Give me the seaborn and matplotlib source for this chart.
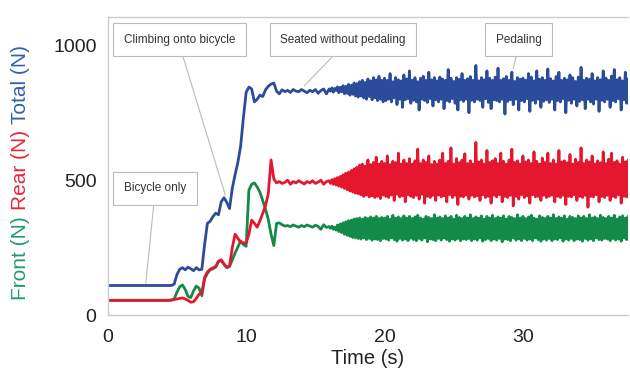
import numpy as np
import pandas as pd
import seaborn as sns
import matplotlib.pyplot as plt
from matplotlib.ticker import MultipleLocator

# getting on the bike, 0 - 15.8 s, sampled every 0.2 s (10 values = 2 s)
front_start = [
    55, 55, 55, 55, 55, 55, 55, 55, 55, 55,
    55, 55, 55, 55, 55, 55, 55, 55, 55, 55,
    55, 55, 55, 56, 60, 85, 105, 112, 95, 70,
    65, 90, 108, 100, 72, 135, 155, 168, 172, 178,
    198, 203, 188, 176, 180, 205, 230, 252, 275, 262,
    255, 463, 485, 490, 475, 455, 425, 392, 355, 300,
    258, 340, 342, 335, 330, 332, 328, 334, 330, 326,
    332, 328, 334, 330, 326, 333, 329, 318, 335, 325,
]
rear_start = [
    55, 55, 55, 55, 55, 55, 55, 55, 55, 55,
    55, 55, 55, 55, 55, 55, 55, 55, 55, 55,
    55, 55, 55, 56, 58, 60, 62, 64, 60, 55,
    48, 50, 62, 78, 82, 140, 160, 170, 175, 180,
    200, 205, 190, 178, 182, 250, 300, 285, 270, 268,
    267, 300, 352, 340, 326, 350, 378, 405, 450, 575,
    505, 490, 495, 488, 492, 500, 485, 495, 490, 498,
    492, 486, 495, 490, 498, 488, 493, 500, 485, 495,
]
total_start = [
    110, 110, 110, 110, 110, 110, 110, 110, 110, 110,
    110, 110, 110, 110, 110, 110, 110, 110, 110, 110,
    110, 110, 110, 110, 115, 150, 170, 176, 168, 178,
    172, 165, 176, 168, 170, 262, 340, 348, 365, 378,
    372, 420, 435, 418, 395, 470, 520, 565, 625, 730,
    825, 845, 838, 790, 800, 815, 810, 835, 848, 856,
    860, 830, 820, 835, 828, 833, 825, 836, 830, 828,
    836, 830, 824, 833, 828, 836, 822, 832, 838, 820,
]

# pedaling, 16 - 37.9 s, sampled every 0.1 s (20 values = 2 s)
front_pedal = [
    328, 322, 330, 318, 326, 315, 334, 310, 338, 306, 342, 300, 346, 296, 350, 292, 352, 288, 356, 286,
    358, 284, 360, 282, 356, 286, 362, 280, 358, 284, 364, 278, 360, 282, 366, 280, 358, 276, 362, 284,
    360, 282, 366, 278, 356, 286, 370, 280, 360, 274, 364, 284, 358, 278, 368, 282, 360, 276, 366, 285,
    358, 280, 364, 276, 370, 284, 360, 278, 356, 286, 366, 272, 362, 282, 358, 280, 372, 276, 360, 284,
    364, 278, 358, 286, 368, 280, 360, 274, 366, 282, 356, 278, 370, 284, 362, 276, 358, 282, 366, 280,
    360, 284, 372, 276, 358, 282, 364, 278, 360, 286, 368, 274, 356, 280, 366, 284, 360, 276, 370, 282,
    358, 278, 364, 284, 360, 272, 368, 282, 356, 280, 366, 276, 362, 286, 358, 278, 372, 282, 360, 276,
    366, 284, 358, 278, 364, 282, 370, 276, 360, 286, 356, 280, 368, 274, 362, 282, 358, 278, 366, 284,
    360, 276, 372, 282, 358, 280, 364, 286, 360, 274, 368, 282, 356, 278, 366, 284, 362, 276, 358, 282,
    368, 280, 360, 274, 366, 284, 358, 278, 372, 282, 360, 276, 364, 286, 358, 280, 370, 278, 362, 284,
    358, 282, 366, 276, 360, 284, 370, 278, 356, 282, 364, 274, 368, 286, 360, 280, 366, 276, 358, 282,
]
rear_pedal = [
    498, 488, 502, 485, 506, 482, 510, 478, 514, 474, 520, 470, 526, 465, 530, 460, 536, 456, 542, 452,
    548, 450, 556, 446, 560, 440, 552, 445, 575, 438, 558, 442, 566, 436, 585, 440, 560, 432, 570, 445,
    562, 440, 590, 436, 558, 445, 570, 425, 565, 448, 600, 438, 560, 442, 575, 420, 562, 446, 580, 440,
    560, 436, 572, 444, 615, 430, 562, 448, 575, 415, 566, 440, 590, 436, 558, 444, 570, 425, 560, 445,
    575, 438, 600, 442, 562, 420, 570, 446, 620, 436, 560, 444, 580, 410, 565, 440, 575, 438, 598, 445,
    562, 430, 572, 444, 560, 438, 640, 442, 568, 425, 575, 446, 560, 436, 610, 440, 566, 415, 572, 444,
    580, 438, 562, 446, 600, 420, 570, 440, 560, 436, 575, 444, 615, 405, 566, 440, 572, 430, 560, 446,
    590, 436, 568, 442, 575, 415, 562, 446, 605, 438, 570, 440, 560, 425, 582, 444, 566, 436, 600, 440,
    562, 445, 575, 420, 560, 440, 610, 436, 568, 444, 572, 410, 565, 440, 595, 438, 560, 446, 578, 425,
    566, 440, 620, 436, 562, 444, 575, 400, 568, 440, 590, 438, 560, 446, 572, 420, 565, 440, 605, 436,
    562, 444, 578, 425, 600, 440, 566, 436, 572, 446, 560, 415, 585, 440, 568, 438, 575, 444, 562, 430,
]
total_pedal = [
    838, 830, 842, 826, 840, 832, 846, 824, 844, 828, 850, 820, 848, 822, 855, 815, 852, 818, 860, 812,
    858, 808, 865, 812, 870, 805, 862, 800, 875, 810, 868, 798, 880, 805, 872, 795, 885, 800, 870, 790,
    878, 795, 870, 800, 895, 790, 865, 805, 880, 780, 872, 800, 868, 770, 890, 798, 875, 802, 905, 785,
    870, 796, 880, 790, 865, 760, 878, 800, 885, 795, 870, 788, 900, 802, 872, 775, 880, 798, 868, 790,
    882, 800, 875, 765, 870, 795, 910, 790, 878, 802, 866, 785, 880, 760, 874, 798, 895, 792, 870, 800,
    876, 750, 884, 796, 870, 790, 925, 800, 868, 795, 880, 770, 872, 802, 905, 788, 878, 765, 870, 798,
    882, 795, 915, 790, 870, 800, 876, 745, 884, 792, 870, 798, 900, 780, 866, 800, 880, 760, 874, 795,
    878, 790, 870, 802, 895, 755, 882, 796, 868, 785, 905, 800, 874, 770, 880, 792, 870, 798, 912, 788,
    876, 800, 868, 760, 884, 795, 900, 790, 870, 802, 878, 750, 872, 796, 890, 785, 880, 800, 866, 775,
    882, 792, 918, 798, 870, 765, 878, 800, 874, 790, 895, 782, 868, 800, 880, 755, 872, 796, 905, 790,
    878, 800, 870, 770, 886, 795, 910, 790, 872, 802, 880, 760, 868, 798, 900, 785, 876, 800, 870, 792,
]

time = np.round(np.concatenate([np.arange(len(total_start)) * 0.2,
                                16 + np.arange(len(total_pedal)) * 0.1]), 1)
df = pd.DataFrame({'time': time,
                   'front': front_start + front_pedal,
                   'rear': rear_start + rear_pedal,
                   'total': total_start + total_pedal})

sns.set_theme(style='white')
plt.rcParams['font.family'] = ['Liberation Sans', 'DejaVu Sans']

green = '#148a48'
red = '#e5172f'
blue = '#2b4b9b'

fig = plt.figure(figsize=(6.3, 3.73), dpi=100)
ax = fig.add_axes([0.171, 0.155, 0.826, 0.799])

sns.lineplot(x='time', y='front', data=df, color=green, lw=2, ax=ax)
sns.lineplot(x='time', y='rear', data=df, color=red, lw=2, ax=ax)
sns.lineplot(x='time', y='total', data=df, color=blue, lw=2, ax=ax)

ax.set_xlim(0, 37.6)
ax.set_ylim(0, 1104)
ax.set_xticks([0, 10, 20, 30])
ax.set_yticks([0, 500, 1000])
ax.xaxis.set_minor_locator(MultipleLocator(2))
ax.yaxis.set_minor_locator(MultipleLocator(100))
ax.tick_params(axis='both', which='major', labelsize=14, labelcolor='#222222',
               color='#bbbbbb', length=3, width=0.8, direction='out', pad=5)
ax.tick_params(axis='both', which='minor', color='#cccccc', length=3, width=0.6,
               direction='in')
ax.tick_params(axis='x', which='major', pad=7)

for side in ['top', 'left', 'bottom']:
    ax.spines[side].set_color('#cccccc')
    ax.spines[side].set_linewidth(1)
ax.spines['right'].set_visible(False)

ax.set_ylabel('')
ax.set_xlabel('Time (s)', fontsize=14.5, color='#222222', labelpad=2)

# callout boxes with grey leader lines
box = dict(boxstyle='square,pad=0.9', fc='white', ec='#bbbbbb', lw=0.8)
line = dict(arrowstyle='-', color='#bbbbbb', lw=0.8, shrinkA=0, shrinkB=0)
notes = [
    ('Climbing onto bicycle', (5.2, 1020), (8.5, 444)),
    ('Seated without pedaling', (17.0, 1020), (14.2, 850)),
    ('Pedaling', (29.7, 1020), (29.3, 915)),
    ('Bicycle only', (3.4, 470), (2.75, 118)),
]
for label, xytext, xy in notes:
    ax.annotate(label, xy=xy, xytext=xytext, ha='center', va='center',
                fontsize=8.5, color='#333333', bbox=box,
                arrowprops=dict(line, relpos=(0.5, 0)), zorder=5)

# y label in three colours, stacked bottom to top
fig.canvas.draw()
renderer = fig.canvas.get_renderer()
y = 0.196
for part, col in [('Front (N)', '#1f9e6a'), ('Rear (N)', '#e5283c'), ('Total (N)', '#3560ad')]:
    t = fig.text(0.032, y, part, rotation=90, ha='center', va='bottom',
                 fontsize=15, color=col)
    ext = t.get_window_extent(renderer)
    y = (ext.y1 + 6) / fig.bbox.height

fig.savefig('out.png', dpi=100)
